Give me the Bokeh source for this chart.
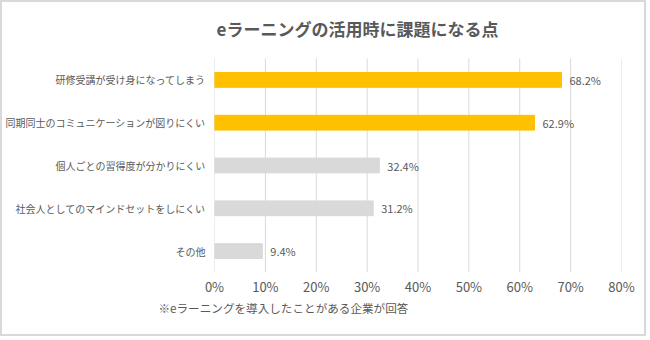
from bokeh.plotting import figure
from bokeh.models import ColumnDataSource, Range1d, FixedTicker, Title
from bokeh.core.properties import value
from bokeh.embed import file_html
from bokeh.resources import INLINE

categories = ["研修受講が受け身になってしまう", "同期同士のコミュニケーションが図りにくい",
              "個人ごとの習得度が分かりにくい", "社会人としてのマインドセットをしにくい", "その他"]
values = [68.2, 62.9, 32.4, 31.2, 9.4]
colors = ["#FFC000", "#FFC000", "#D9D9D9", "#D9D9D9", "#D9D9D9"]
x_ticks = [0, 10, 20, 30, 40, 50, 60, 70, 80]
title_text = "eラーニングの活用時に課題になる点"
note_text = "※eラーニングを導入したことがある企業が回答"

FONT = "Noto Sans CJK JP"
TXT = "#595959"

n = len(categories)
ypos = [n - 1 - i for i in range(n)]          # first category on top
src = ColumnDataSource(dict(y=ypos, val=values, color=colors,
                            lab=[f"{v:.1f}%" for v in values]))

# frame extends to the top of the canvas so the title can live inside it
px_per_unit = 42.8
top_extra = 56 / px_per_unit
p = figure(width=646, height=336, output_backend="svg", toolbar_location=None,
           x_range=Range1d(0, 80), y_range=Range1d(-0.5, n - 0.5 + top_extra),
           min_border_left=211, min_border_right=27, min_border_top=0, min_border_bottom=66)
p.styles = {"border": "2px solid #d9d9d9"}
p.outline_line_color = None
p.background_fill_color = "white"
p.border_fill_color = "white"

# vertical grid lines only over the category area
p.segment(x0=x_ticks, y0=[-0.5] * len(x_ticks), x1=x_ticks, y1=[n - 0.5] * len(x_ticks),
          line_color="#D9D9D9", line_width=1)
p.hbar(y="y", right="val", left=0, height=0.345, color="color", source=src)
p.text(x="val", y="y", text="lab", source=src, x_offset=8, text_baseline="middle",
       text_font_size="11px", text_color=TXT, text_font=value(FONT))
# title kept fully inside the frame (glyphs are clipped at the frame edge)
p.text(x=[0.4], y=[n - 0.5 + 30 / px_per_unit], text=[title_text], text_align="left",
       text_baseline="middle", text_font=value(FONT), text_font_size="17px",
       text_font_style="bold", text_color=TXT)

p.xgrid.grid_line_color = None
p.ygrid.grid_line_color = None
p.xaxis.ticker = FixedTicker(ticks=x_ticks)
p.xaxis.major_label_overrides = {t: f"{t}%" for t in x_ticks}
p.yaxis.ticker = FixedTicker(ticks=ypos)
p.yaxis.major_label_overrides = {y: c for y, c in zip(ypos, categories)}
for ax in (p.xaxis[0], p.yaxis[0]):
    ax.axis_line_color = None
    ax.major_tick_line_color = None
    ax.minor_tick_line_color = None
    ax.major_tick_out = 0
    ax.major_label_text_color = TXT
    ax.major_label_text_font = FONT
p.xaxis.major_label_text_font_size = "13px"
p.xaxis.major_label_standoff = 4
p.yaxis.major_label_text_font_size = "10px"
p.yaxis.major_label_standoff = 9

p.add_layout(Title(text=note_text, align="left", offset=-56, standoff=-2, text_font=FONT,
                   text_font_size="11.6px", text_font_style="normal", text_color=TXT), "below")

open("out.html", "w").write(file_html(p, INLINE))
